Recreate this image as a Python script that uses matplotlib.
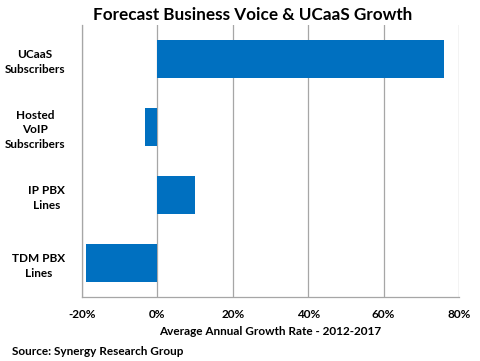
import matplotlib
matplotlib.use("Agg")
import matplotlib.pyplot as plt
from matplotlib.ticker import FuncFormatter

# data
categories = ["UCaaS\nSubscribers", "Hosted\nVoIP\nSubscribers", "IP PBX\nLines", "TDM PBX\nLines"]
growth = [76, -3.2, 10, -19]   # average annual growth rate, %
x_ticks = [-20, 0, 20, 40, 60, 80]

plt.rcParams['font.family'] = ['Lato', 'DejaVu Sans']
plt.rcParams['font.weight'] = 'bold'

fig = plt.figure(figsize=(4.8, 3.61), dpi=100)
ax = fig.add_axes([0.1708, 0.1773, 0.7854, 0.7534])

pos = list(range(len(categories)))[::-1]
ax.barh(pos, growth, height=0.57, color="#0070C0", zorder=3)

ax.set_xlim(-20, 80)
ax.set_ylim(-0.5, 3.5)
ax.set_xticks(x_ticks)
ax.set_xticklabels(["%d%%" % v for v in x_ticks], fontsize=8.5, fontweight="bold")
ax.set_yticks(pos)
ax.set_yticklabels(categories, multialignment="center", fontsize=8.5,
                   fontweight="bold", linespacing=1.4)
ax.tick_params(axis="y", length=0, pad=12)
ax.tick_params(axis="x", length=0, pad=9)

ax.grid(axis="x", color="#a6a6a6", linewidth=0.9, zorder=0)
for s in ["top", "right"]:
    ax.spines[s].set_visible(False)
for s in ["left", "bottom"]:
    ax.spines[s].set_color("#a6a6a6")
    ax.spines[s].set_linewidth(0.9)

ax.set_xlabel("Average Annual Growth Rate - 2012-2017", fontsize=8.5,
              fontweight="bold", labelpad=4)
fig.text(0.527, 0.958, "Forecast Business Voice & UCaaS Growth",
         ha="center", va="center", fontsize=12.3, fontweight="bold")
fig.text(0.025, 0.025, "Source: Synergy Research Group",
         ha="left", va="center", fontsize=8.5, fontweight="bold")

fig.savefig("out.png", dpi=100)
